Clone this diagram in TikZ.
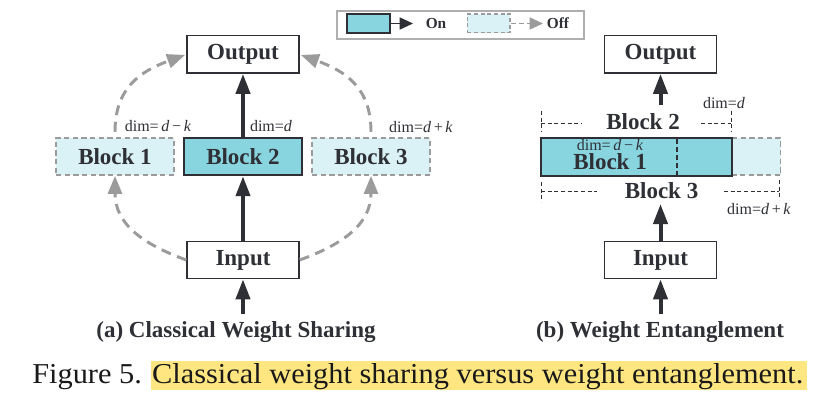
\documentclass[tikz,border=0pt]{standalone}
\usepackage{fontspec}
\setmainfont{Liberation Serif}
\usetikzlibrary{arrows.meta}
\definecolor{dk}{HTML}{2E3036}
\definecolor{cyanf}{HTML}{89D5DF}
\definecolor{lightf}{HTML}{DAF2F5}
\definecolor{offg}{HTML}{9B9B9B}
\definecolor{hl}{HTML}{FFE680}
\begin{document}
\begin{tikzpicture}[x=0.75pt,y=0.75pt,
 bigtxt/.style={font=\fontsize{17.25}{20}\selectfont\bfseries, text=dk},
 lbl/.style={font=\fontsize{12}{14}\selectfont, text=dk, inner sep=0},
 iobox/.style={draw=dk, line width=1pt, fill=white, minimum width=84pt, minimum height=28pt, inner sep=0, bigtxt},
 onblk/.style={draw=dk, line width=1.6pt, fill=cyanf, minimum width=88.5pt, minimum height=28pt, inner sep=0, bigtxt},
 offblk/.style={draw=offg, line width=1.1pt, dash pattern=on 4pt off 2.5pt, fill=lightf, minimum width=88.5pt, minimum height=28pt, inner sep=0, bigtxt},
 onarrow/.style={draw=dk, line width=3pt, -{Triangle[length=15pt,width=10.5pt]}},
 offarrow/.style={draw=offg, line width=2.2pt, dash pattern=on 7.5pt off 5pt, -{Triangle[length=13.5pt,width=10.5pt]}},
 guide/.style={draw=dk, line width=0.7pt, dash pattern=on 3pt off 2pt},
]
\fill[white] (0,0) rectangle (832,-403);
\useasboundingbox (0,0) rectangle (832,-403);

% legend
\node[draw=offg!80, line width=0.8pt, minimum width=185.25pt, minimum height=21pt, inner sep=0] (leg) at (460.5,-25) {};
\node[draw=dk, line width=1.3pt, fill=cyanf, minimum width=32pt, minimum height=14pt, inner sep=0] (lon) at (368.5,-23.5) {};
\coordinate (lonend) at (413,-23.5);
\draw[dk, line width=1.2pt, -{Triangle[length=10pt,width=9pt]}] (lon.east) -- (lonend);
\node[inner sep=0, text=dk, font=\fontsize{11.5}{14}\selectfont\bfseries] (ton) at (436,-23) {On};
\node[draw=offg, line width=1pt, dash pattern=on 3pt off 2pt, fill=lightf, minimum width=32pt, minimum height=14pt, inner sep=0] (loff) at (488.5,-23.5) {};
\coordinate (loffend) at (543,-23.5);
\draw[offg, line width=1.2pt, dash pattern=on 4pt off 2pt, -{Triangle[length=10pt,width=9pt]}] (loff.east) -- (loffend);
\node[inner sep=0, text=dk, font=\fontsize{11.5}{14}\selectfont\bfseries] (toff) at (558,-23) {Off};

% panel (a)
\node[iobox] (outa) at (243,-54.5) {Output};
\node[offblk] (b1) at (115,-156.5) {Block 1};
\node[onblk] (b2) at (243,-156.5) {Block 2};
\node[offblk] (b3) at (371,-156.5) {Block 3};
\node[iobox] (ina) at (243,-260) {Input};
\coordinate (ina0) at (243,-314);
\draw[onarrow] (b2.north) -- (outa.south);
\draw[onarrow] (ina.north) -- (b2.south);
\draw[onarrow] (ina0) -- (ina.south);
\draw[offarrow, shorten <=4pt, shorten >=1pt, looseness=1.15] (b1.north) to[out=90,in=200] (outa.west);
\draw[offarrow, shorten <=4pt, shorten >=1pt, looseness=1.15] (b3.north) to[out=90,in=-20] (outa.east);
\draw[offarrow, looseness=1.1] (ina.west) to[out=160,in=-90] (b1.south);
\draw[offarrow, looseness=1.1] (ina.east) to[out=20,in=-90] (b3.south);
\node[lbl] (da1) at (158,-126) {dim=\,\textit{d}\,−\,\textit{k}};
\node[lbl] (da2) at (271,-126) {dim=\textit{d}};
\node[lbl] (da3) at (421,-127) {dim=\textit{d}\,+\,\textit{k}};
\node[bigtxt, inner sep=0] (capa) at (236,-332) {(a) Classical Weight Sharing};

% panel (b)
\node[iobox] (outb) at (660.5,-54.5) {Output};
\node[iobox] (inb) at (660.5,-260) {Input};
\node[offblk, minimum width=180pt, anchor=west] (bb3) at (540,-156.5) {};
\node[onblk, minimum width=143.25pt, anchor=west] (bb1) at (540,-157) {};
\draw[dk, line width=1.2pt, dash pattern=on 4pt off 2pt] (677,-138.5) -- (677,-175.5);
\node[bigtxt, inner sep=0] (tb1) at (610,-162) {Block 1};
\node[lbl] (db1) at (610,-145) {dim=\,\textit{d}\,−\,\textit{k}};
\node[bigtxt, inner sep=0] (tb2) at (643,-122) {Block 2};
\node[bigtxt, inner sep=0] (tb3) at (661.5,-190.5) {Block 3};
\node[lbl] (db2) at (724,-103) {dim=\textit{d}};
\node[lbl] (db3) at (759,-209) {dim=\textit{d}\,+\,\textit{k}};
\draw[guide] (541,-111) -- (541,-132);
\draw[guide] (541,-123) -- (582,-123);
\draw[guide] (701,-123) -- (731,-123);
\draw[guide] (731,-111) -- (731,-132);
\draw[guide] (541,-182) -- (541,-202);
\draw[guide] (541,-191) -- (597,-191);
\draw[guide] (724,-191) -- (779,-191);
\draw[guide] (779,-180) -- (779,-200);
\coordinate (b2t) at (660.5,-105);
\coordinate (b3t) at (660.5,-204);
\coordinate (inb0) at (660.5,-314);
\draw[onarrow] (b2t) -- (outb.south);
\draw[onarrow] (inb.north) -- (b3t);
\draw[onarrow] (inb0) -- (inb.south);
\node[bigtxt, inner sep=0] (capb) at (660,-332) {(b) Weight Entanglement};

% figure caption
\fill[hl] (151,-361) rectangle (807,-390);
\node[anchor=base west, inner sep=0, text=black!90] (figcap) at (32,-383) {\resizebox{578.25pt}{15pt}{Figure 5. Classical weight sharing versus weight entanglement.}};
\end{tikzpicture}
\end{document}
